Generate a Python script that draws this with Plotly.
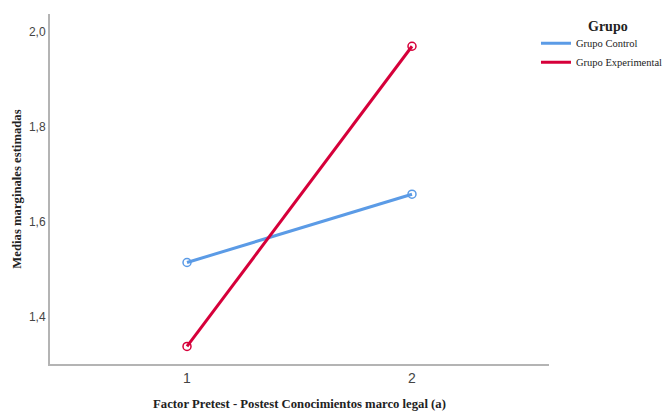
import plotly.graph_objects as go

# datos
niveles = [1, 2]
grupos = ['Grupo Control', 'Grupo Experimental']
medias_control = [1.514, 1.658]
medias_experimental = [1.337, 1.970]
colores = ['#5B9BE6', '#D6003A']

fig = go.Figure()

for nombre, medias, color in zip(grupos, [medias_control, medias_experimental], colores):
    fig.add_trace(
        go.Scatter(
            x=niveles,
            y=medias,
            mode='lines+markers',
            name=nombre,
            line=dict(color=color, width=3),
            marker=dict(symbol='circle-open', size=8, color=color, line=dict(width=1.5)),
            showlegend=False,
        )
    )
    # entrada de leyenda solo con la línea
    fig.add_trace(
        go.Scatter(
            x=[None],
            y=[None],
            mode='lines',
            name=nombre,
            line=dict(color=color, width=3),
        )
    )

serif = 'Liberation Serif, Times New Roman, serif'
sans = 'Liberation Sans, Arial, sans-serif'

fig.update_layout(
    width=664,
    height=415,
    margin=dict(l=50, r=115, t=14, b=51, autoexpand=False),
    paper_bgcolor='white',
    plot_bgcolor='white',
    showlegend=True,
    legend=dict(
        xref='container', yref='container',
        x=0.8072, y=0.931, xanchor='left', yanchor='top',
        font=dict(family=serif, size=10.5, color='#222'),
        itemwidth=30,
        tracegroupgap=0,
        bgcolor='rgba(0,0,0,0)',
    ),
    annotations=[
        dict(
            text='<b>Grupo</b>', x=1.118, y=0.963, xref='paper', yref='paper',
            xanchor='center', yanchor='middle', showarrow=False,
            font=dict(family=serif, size=14, color='#222'),
        )
    ],
)

fig.update_xaxes(
    range=[0.391, 2.609],
    tickvals=niveles,
    ticktext=['1', '2'],
    showgrid=False,
    zeroline=False,
    showline=True,
    linecolor='#B4B4B4',
    linewidth=2,
    ticks='',
    automargin=False,
    tickfont=dict(family=sans, size=14, color='#444'),
    title=dict(
        text='<b>Factor Pretest - Postest Conocimientos marco legal (a)</b>',
        font=dict(family=serif, size=12.7, color='#222'),
        standoff=14,
    ),
)

fig.update_yaxes(
    range=[1.3, 2.038],
    tickvals=[1.4, 1.6, 1.8, 2.0],
    ticktext=['1,4', '1,6', '1,8', '2,0'],
    showgrid=False,
    zeroline=False,
    showline=True,
    linecolor='#B4B4B4',
    linewidth=2,
    ticks='',
    automargin=False,
    tickfont=dict(family=sans, size=12, color='#444'),
    title=dict(
        text='<b>Medias marginales estimadas</b>',
        font=dict(family=serif, size=12.7, color='#222'),
        standoff=4,
    ),
)

# sin margen del body para que la figura ocupe la ventana exacta
fig.write_html(
    'out.html',
    config={'displayModeBar': False},
    post_script="document.body.style.margin='0';",
)
